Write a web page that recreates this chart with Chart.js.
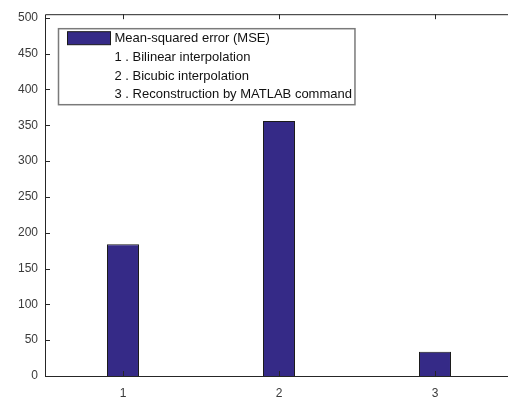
<!DOCTYPE html>
<html>
<head>
<meta charset="utf-8">
<script src="https://cdn.jsdelivr.net/npm/chart.js@4/dist/chart.umd.min.js"></script>
<style>
  html, body { margin: 0; padding: 0; background: #fff; overflow: hidden; }
  #wrap { position: relative; width: 508px; height: 399px; overflow: hidden; }
  canvas { position: absolute; left: 0; top: 0; }
</style>
</head>
<body>
<div id="wrap"><canvas id="mseChart" width="530" height="399"></canvas></div>
<script>
let categories = ['1', '2', '3'];
let mseValues = [184, 356, 34];
let seriesLabel = 'Mean-squared error (MSE)';
let legendNotes = [
  '1 . Bilinear interpolation',
  '2 . Bicubic interpolation',
  '3 . Reconstruction by MATLAB command'
];
let yTicks = [0, 50, 100, 150, 200, 250, 300, 350, 400, 450, 500];

let axisColor = '#262626';
let textColor = '#3a3a3a';
let barColor = '#352a87';
let fontFamily = '"Liberation Sans", Arial, sans-serif';

// box + inward ticks, matlab style
let axesBox = {
  id: 'axesBox',
  afterDraw(chart) {
    let ctx = chart.ctx;
    let a = chart.chartArea;
    let x = chart.scales.x, y = chart.scales.y;
    ctx.save();
    ctx.strokeStyle = axisColor;
    ctx.lineWidth = 1;
    ctx.beginPath();
    ctx.rect(a.left + 0.5, a.top + 0.5, a.right - a.left, a.bottom - a.top);
    y.ticks.forEach(t => {
      let py = Math.round(y.getPixelForValue(t.value)) + 0.5;
      ctx.moveTo(a.left, py); ctx.lineTo(a.left + 5, py);
      ctx.moveTo(a.right, py); ctx.lineTo(a.right - 5, py);
    });
    categories.forEach((c, i) => {
      let px = Math.round(x.getPixelForValue(i)) + 0.5;
      ctx.moveTo(px, a.bottom); ctx.lineTo(px, a.bottom - 5);
      ctx.moveTo(px, a.top); ctx.lineTo(px, a.top + 5);
    });
    ctx.stroke();
    ctx.restore();
  }
};

let boxLegend = {
  id: 'boxLegend',
  afterDraw(chart) {
    let ctx = chart.ctx;
    let a = chart.chartArea;
    let ds = chart.data.datasets[0];
    let lines = [ds.label].concat(legendNotes);
    let left = a.left + 13.5, top = a.top + 14.5;
    ctx.save();
    ctx.font = '13px ' + fontFamily;
    let textX = left + 56;
    let w = Math.max(...lines.map(s => ctx.measureText(s).width));
    let boxW = textX - left + w + 3;
    let boxH = 76;
    ctx.fillStyle = '#fff';
    ctx.fillRect(left, top, boxW, boxH);
    ctx.strokeStyle = '#7a7a7a';
    ctx.lineWidth = 1.5;
    ctx.strokeRect(left, top, boxW, boxH);
    ctx.fillStyle = ds.backgroundColor;
    ctx.fillRect(left + 9, top + 3, 43, 13);
    ctx.strokeStyle = '#1a1a1a';
    ctx.lineWidth = 1;
    ctx.strokeRect(left + 9, top + 3, 43, 13);
    ctx.fillStyle = '#111';
    ctx.textBaseline = 'middle';
    lines.forEach((s, i) => ctx.fillText(s, textX, top + 10 + i * 18.7));
    ctx.restore();
  }
};

let ctx1 = document.getElementById('mseChart').getContext('2d');

let chart = new Chart(ctx1, {
  type: 'bar',
  data: {
    labels: categories,
    datasets: [{
      label: seriesLabel,
      data: mseValues,
      backgroundColor: barColor,
      borderColor: '#1a1a1a',
      borderWidth: 1,
      categoryPercentage: 1,
      barPercentage: 0.205
    }]
  },
  options: {
    responsive: false,
    animation: false,
    layout: { padding: { top: 13, right: 17, left: 0, bottom: 0 } },
    plugins: { legend: { display: false }, tooltip: { enabled: false } },
    scales: {
      x: {
        grid: { display: false, drawTicks: false },
        border: { display: false },
        ticks: { color: textColor, font: { size: 12, family: fontFamily }, padding: 10 },
        afterFit(s) { s.height = 23; }
      },
      y: {
        min: 0,
        max: 505,
        grid: { display: false, drawTicks: false },
        border: { display: false },
        afterBuildTicks(s) { s.ticks = yTicks.map(v => ({ value: v })); },
        ticks: { color: textColor, font: { size: 12, family: fontFamily }, padding: 7 },
        afterFit(s) { s.width = 45; }
      }
    }
  },
  plugins: [axesBox, boxLegend]
});
</script>
</body>
</html>
